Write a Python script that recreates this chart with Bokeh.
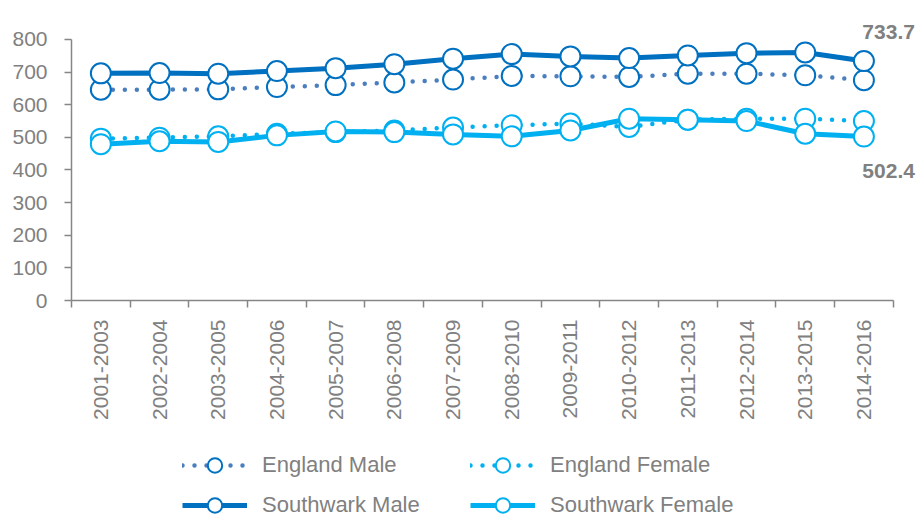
import numpy as np
from bokeh.plotting import figure
from bokeh.layouts import column
from bokeh.models import (LinearAxis, FixedTicker, Range1d, Legend, LegendItem,
                          ColumnDataSource)
from bokeh.core.properties import value
from bokeh.embed import file_html
from bokeh.resources import INLINE

categories = ["2001-2003", "2002-2004", "2003-2005", "2004-2006", "2005-2007",
              "2006-2008", "2007-2009", "2008-2010", "2009-2011", "2010-2012",
              "2011-2013", "2012-2014", "2013-2015", "2014-2016"]
england_male = [646, 646, 647, 654, 660, 668, 677, 688, 687, 685, 695, 695, 690, 675]
england_female = [496, 499, 503, 511, 516, 521, 530, 537, 542, 532, 554, 557, 557, 550]
southwark_male = [696, 697, 695, 703, 712, 724, 741, 755, 748, 743, 751, 758, 760, 733.7]
southwark_female = [479, 488, 486, 506, 518, 516, 509, 503, 521, 557, 554, 550, 511, 502.4]
y_ticks = [0, 100, 200, 300, 400, 500, 600, 700, 800]

FONT = "Liberation Sans"
GREY = "#808080"
DARK = "#0070C0"
LIGHT = "#00B0F0"
DOT_DARK = "#4A7EBF"

n = len(categories)
x = np.arange(n) + 0.5

p = figure(width=918, height=440, output_backend="svg", toolbar_location=None,
           x_range=Range1d(0, 14.43), y_range=Range1d(0, 858),
           x_axis_type=None, y_axis_type=None,
           min_border_left=71, min_border_right=0, min_border_top=20,
           min_border_bottom=140)
p.outline_line_color = None
p.xgrid.visible = False
p.ygrid.visible = False

# y axis
yax = LinearAxis(ticker=FixedTicker(ticks=y_ticks, minor_ticks=[]),
                 bounds=(y_ticks[0], y_ticks[-1]))
yax.axis_line_color = "#868686"
yax.axis_line_width = 1.5
yax.major_tick_line_color = "#868686"
yax.major_tick_line_width = 1.5
yax.major_tick_out = 7
yax.major_tick_in = 0
yax.minor_tick_line_color = None
yax.major_label_text_font = FONT
yax.major_label_text_font_size = "21px"
yax.major_label_text_color = GREY
yax.major_label_standoff = 17
p.add_layout(yax, "left")

# x axis
xax = LinearAxis(ticker=FixedTicker(ticks=list(x), minor_ticks=list(range(n + 1))),
                 bounds=(0, n))
xax.major_label_overrides = {float(xi): c for xi, c in zip(x, categories)}
xax.axis_line_color = "#868686"
xax.axis_line_width = 1.5
xax.major_tick_out = 0
xax.major_tick_in = 0
xax.major_tick_line_color = None
xax.minor_tick_line_color = "#868686"
xax.minor_tick_line_width = 1.5
xax.minor_tick_out = 7
xax.minor_tick_in = 0
xax.major_label_orientation = np.pi / 2
xax.major_label_text_font = FONT
xax.major_label_text_font_size = "21px"
xax.major_label_text_color = GREY
xax.major_label_standoff = 12
p.add_layout(xax, "below")

series = [
    ("England Male", england_male, DOT_DARK, DARK, "dot"),
    ("England Female", england_female, LIGHT, LIGHT, "dot"),
    ("Southwark Male", southwark_male, DARK, DARK, "solid"),
    ("Southwark Female", southwark_female, LIGHT, LIGHT, "solid"),
]


def draw(fig, xs, ys, lcol, mcol, style, msize):
    src = ColumnDataSource(dict(x=xs, y=ys))
    if style == "dot":
        ln = fig.line("x", "y", source=src, line_color=lcol, line_width=4.5,
                      line_dash="0 12", line_cap="round")
    else:
        ln = fig.line("x", "y", source=src, line_color=lcol, line_width=5)
    sc = fig.scatter("x", "y", source=src, marker="circle", size=msize,
                     fill_color="white", line_color=mcol, line_width=2)
    return [ln, sc]


for name, vals, lcol, mcol, style in series:
    draw(p, x, vals, lcol, mcol, style, 20)

# end labels
lab_src = ColumnDataSource(dict(
    x=[x[-1], x[-1]],
    y=[southwark_male[-1], southwark_female[-1]],
    t=[f"{southwark_male[-1]:.1f}", f"{southwark_female[-1]:.1f}"],
    yo=[-29, 34]))
p.text("x", "y", text="t", source=lab_src, x_offset=51, y_offset="yo",
       text_align="right", text_baseline="middle",
       text_font=value(FONT), text_font_size="21px", text_font_style="bold",
       text_color=GREY)

# legend strip (same series drawn off-range, so only the legend is visible)
lp = figure(width=918, height=78, output_backend="svg", toolbar_location=None,
            x_range=Range1d(0, 1), y_range=Range1d(0, 1),
            x_axis_type=None, y_axis_type=None,
            min_border_left=0, min_border_right=0, min_border_top=0,
            min_border_bottom=0)
lp.outline_line_color = None
lp.xgrid.visible = False
lp.ygrid.visible = False

items = {}
for name, vals, lcol, mcol, style in series:
    items[name] = draw(lp, x, vals, lcol, mcol, style, 20)


def make_legend(names, xloc):
    lg = Legend(items=[LegendItem(label=nm, renderers=items[nm]) for nm in names],
                location=(xloc, -5), orientation="vertical")
    lg.glyph_width = 65
    lg.glyph_height = 36
    lg.label_height = 36
    lg.label_standoff = 15
    lg.spacing = 4
    lg.padding = 0
    lg.margin = 0
    lg.border_line_color = None
    lg.background_fill_alpha = 0
    lg.label_text_font = FONT
    lg.label_text_font_size = "22px"
    lg.label_text_color = GREY
    return lg


lp.add_layout(make_legend(["England Male", "Southwark Male"], 111), "center")
lp.add_layout(make_legend(["England Female", "Southwark Female"], 399), "center")

layout = column(p, lp, spacing=0)
open("out.html", "w").write(file_html(layout, INLINE))
